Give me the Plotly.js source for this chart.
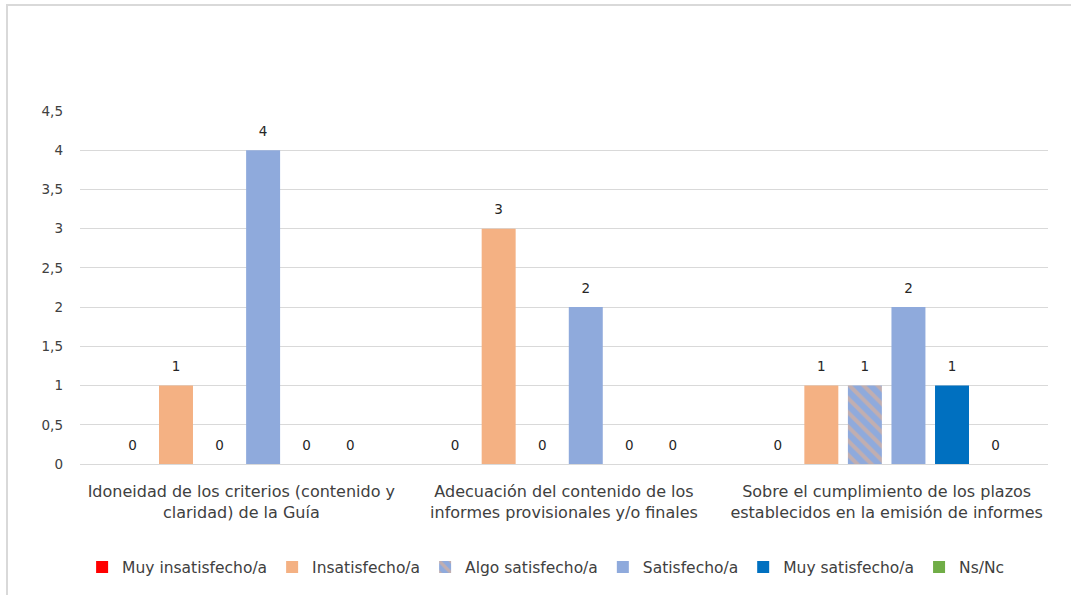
<!DOCTYPE html>
<html>
<head>
<meta charset="utf-8">
<script src="https://cdn.plot.ly/plotly-3.0.1.min.js"></script>
<style>
html,body{margin:0;padding:0;background:#fff;}
#wrap{position:absolute;left:6px;top:4px;width:1065px;height:591px;border-left:2px solid #D9D9D9;border-top:2px solid #D9D9D9;}
#chart{width:1063px;height:589px;}
</style>
</head>
<body>
<div id="wrap"><div id="chart"></div></div>
<script>
const categories = [
  "Idoneidad de los criterios (contenido y<br>claridad) de la Guía",
  "Adecuación del contenido de los<br>informes provisionales y/o finales",
  "Sobre el cumplimiento de los plazos<br>establecidos en la emisión de informes"
];
const seriesNames = ["Muy insatisfecho/a","Insatisfecho/a","Algo satisfecho/a","Satisfecho/a","Muy satisfecho/a","Ns/Nc"];
const muyInsatisfecho = [0,0,0];
const insatisfecho = [1,3,1];
const algoSatisfecho = [0,0,1];
const satisfecho = [4,2,2];
const muySatisfecho = [0,0,1];
const nsnc = [0,0,0];
const yTicks = [0,0.5,1,1.5,2,2.5,3,3.5,4,4.5];

const values = [muyInsatisfecho,insatisfecho,algoSatisfecho,satisfecho,muySatisfecho,nsnc];
const colors = ["#FF0000","#F4B183","#8FAADC","#8FAADC","#0070C0","#70AD47"];
const FONT = "'DejaVu Sans', 'Noto Sans', sans-serif";

const traces = [];
seriesNames.forEach((name,i)=>{
  const t = {
    type:'bar', name:name, x:categories, y:values[i],
    offsetgroup:'g'+i, alignmentgroup:'a',
    marker:{color:colors[i], line:{width:0}},
    hoverinfo:'skip'
  };
  if(i===2){
    t.marker.pattern = {shape:'\\', fgcolor:'#F4B183', bgcolor:'#8FAADC', size:10, solidity:0.4, fillmode:'overlay'};
  }
  traces.push(t);
});
seriesNames.forEach((name,i)=>{
  traces.push({
    type:'scatter', mode:'markers+text', x:categories, y:values[i],
    offsetgroup:'g'+i, alignmentgroup:'a',
    marker:{size:16, color:'rgba(0,0,0,0)'},
    text:values[i].map(v=>String(v)), textposition:'top center',
    textfont:{family:FONT,size:13.5,color:'#262626'},
    cliponaxis:false, showlegend:false, hoverinfo:'skip'
  });
});

const layout = {
  width:1063, height:589,
  margin:{l:72,r:23,t:105,b:131},
  paper_bgcolor:'#fff', plot_bgcolor:'#fff',
  font:{family:FONT,size:13,color:'#404040'},
  barmode:'group', bargap:0.19, bargroupgap:0.22,
  scattermode:'group', scattergap:0.19,
  separators:',.',
  xaxis:{type:'category', showgrid:false, showline:true, linecolor:'#D9D9D9', linewidth:1,
         ticks:'', tickfont:{family:FONT,size:16,color:'#404040'}, ticklabelstandoff:13},
  yaxis:{range:[0,4.5], tickvals:yTicks, ticktext:yTicks.map(v=>String(v).replace('.',',')),
         showgrid:true, gridcolor:'#D9D9D9', gridwidth:1, zeroline:false, showline:false,
         ticks:'', tickfont:{family:FONT,size:13.5,color:'#404040'}, ticklabelstandoff:16},
  legend:{orientation:'h', x:0.481, xanchor:'center', yref:'container', y:0.047, yanchor:'middle',
          font:{family:FONT,size:15.5,color:'#404040'}, itemwidth:30, traceorder:'normal'},
  showlegend:true
};
Plotly.newPlot('chart', traces, layout, {displayModeBar:false, staticPlot:true});
</script>
</body>
</html>
